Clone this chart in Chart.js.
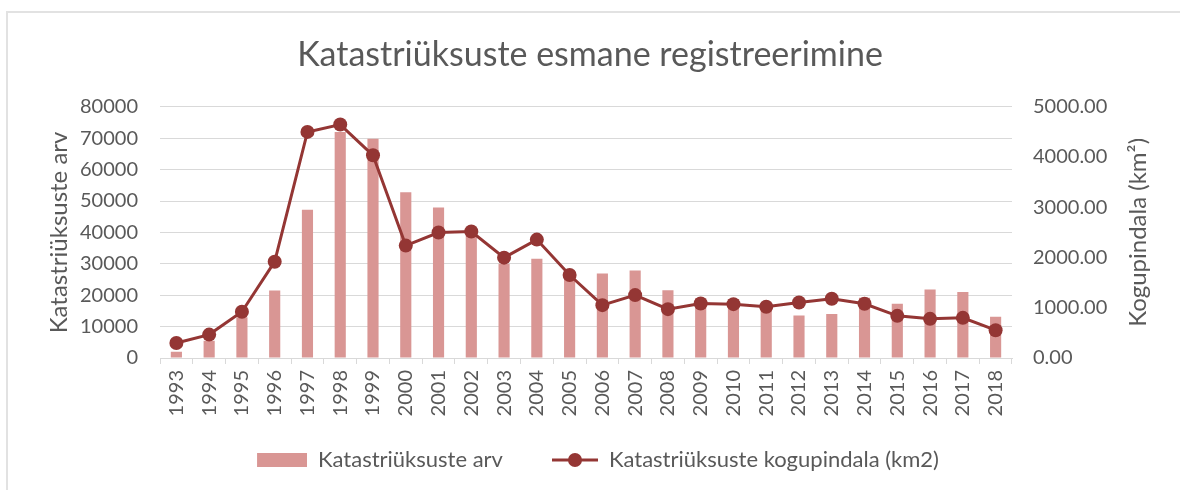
<!DOCTYPE html>
<html>
<head>
<meta charset="utf-8">
<script src="https://cdn.jsdelivr.net/npm/chart.js@4"></script>
<style>
html, body { margin: 0; padding: 0; background: #fff; }
#frame { position: absolute; left: 6px; top: 11px; width: 1200px; height: 520px; border: 2px solid #e2e2e2; box-sizing: border-box; }
#kat { position: absolute; left: 0; top: 0; }
</style>
</head>
<body>
<div id="frame"></div>
<canvas id="kat" width="1180" height="490"></canvas>
<script>
// aastad
const years = ['1993','1994','1995','1996','1997','1998','1999','2000','2001','2002','2003','2004','2005',
               '2006','2007','2008','2009','2010','2011','2012','2013','2014','2015','2016','2017','2018'];
// katastriüksuste arv (vasak telg)
const parcelCount = [2000, 5500, 13000, 21500, 47200, 72000, 69800, 52800, 47900, 40000, 30000, 31600, 25500,
                     26900, 27900, 21600, 19000, 18800, 17500, 13500, 14000, 19200, 17300, 21800, 21000, 13100];
// kogupindala km2 (parem telg)
const totalArea = [300, 466, 920, 1917, 4500, 4647, 4035, 2237, 2497, 2517, 1997, 2357, 1651,
                   1052, 1252, 972, 1085, 1072, 1019, 1105, 1178, 1079, 839, 779, 799, 553];
const leftTicks = [0, 10000, 20000, 30000, 40000, 50000, 60000, 70000, 80000];
const rightTicks = [0, 1000, 2000, 3000, 4000, 5000];

const barColor = '#d99694';
const lineColor = '#943634';
const textColor = '#595959';
const gridColor = '#d9d9d9';
const fontName = 'Lato';

// legendi märgid: vasakul tühi vahe, et elemendid oleks laiemalt
function legendBar() {
  const c = document.createElement('canvas');
  c.width = 66; c.height = 14;
  const g = c.getContext('2d');
  g.fillStyle = barColor;
  g.fillRect(16, 0, 50, 14);
  return c;
}
function legendLine() {
  const c = document.createElement('canvas');
  c.width = 66; c.height = 16;
  const g = c.getContext('2d');
  g.strokeStyle = lineColor;
  g.lineWidth = 3;
  g.beginPath(); g.moveTo(20, 8); g.lineTo(66, 8); g.stroke();
  g.fillStyle = lineColor;
  g.beginPath(); g.arc(43, 8, 7, 0, Math.PI * 2); g.fill();
  return c;
}

// paremal telje pealkiri loetakse alt üles
const rightTitle = {
  id: 'rightTitle',
  afterDraw(chart) {
    const c = chart.ctx;
    const s = chart.scales.y2;
    c.save();
    c.translate(s.right - 42, (s.top + s.bottom) / 2);
    c.rotate(-Math.PI / 2);
    c.font = '24px ' + fontName;
    c.fillStyle = textColor;
    c.textAlign = 'center';
    c.textBaseline = 'middle';
    c.fillText('Kogupindala (km²)', 0, 0);
    c.restore();
  }
};

const ctx = document.getElementById('kat').getContext('2d');
var chart = new Chart(ctx, {
  type: 'bar',
  data: {
    labels: years,
    datasets: [{
      type: 'bar',
      label: 'Katastriüksuste arv',
      data: parcelCount,
      backgroundColor: barColor,
      barPercentage: 0.34,
      categoryPercentage: 1,
      yAxisID: 'y',
      order: 1
    }, {
      type: 'line',
      label: 'Katastriüksuste kogupindala (km2)',
      data: totalArea,
      borderColor: lineColor,
      backgroundColor: lineColor,
      borderWidth: 3,
      pointRadius: 7,
      pointBackgroundColor: lineColor,
      pointBorderWidth: 0,
      tension: 0,
      yAxisID: 'y2',
      order: 0
    }]
  },
  options: {
    responsive: false,
    animation: false,
    layout: { padding: { left: 0, right: 0, top: 0, bottom: 9 } },
    plugins: {
      tooltip: { enabled: false },
      title: {
        display: true,
        text: 'Katastriüksuste esmane registreerimine',
        color: textColor,
        font: { family: fontName, size: 34, weight: 'normal' },
        padding: { top: 35, bottom: 31 }
      },
      legend: {
        position: 'bottom',
        labels: {
          color: textColor,
          font: { family: fontName, size: 22 },
          usePointStyle: true,
          pointStyleWidth: 66,
          padding: 29,
          generateLabels: function() {
            return [
              { text: 'Katastriüksuste arv', pointStyle: legendBar(), fillStyle: barColor, strokeStyle: barColor, lineWidth: 0, datasetIndex: 0, fontColor: textColor },
              { text: 'Katastriüksuste kogupindala (km2)', pointStyle: legendLine(), fillStyle: lineColor, strokeStyle: lineColor, lineWidth: 0, datasetIndex: 1, fontColor: textColor }
            ];
          }
        }
      }
    },
    scales: {
      x: {
        offset: true,
        grid: { display: true, drawOnChartArea: false, drawTicks: true, tickLength: 6, color: gridColor, offset: true },
        border: { display: true, color: gridColor, width: 1 },
        ticks: { color: textColor, font: { family: fontName, size: 20 }, minRotation: 90, maxRotation: 90, padding: 6, autoSkip: false },
        afterFit: function(s) { s.height = 62; }
      },
      y: {
        position: 'left',
        min: leftTicks[0],
        max: leftTicks[leftTicks.length - 1],
        afterBuildTicks: function(s) { s.ticks = leftTicks.map(v => ({ value: v })); },
        grid: { color: gridColor, lineWidth: 1, drawTicks: false },
        border: { display: false },
        ticks: { color: textColor, font: { family: fontName, size: 20 }, padding: 22, autoSkip: false, callback: v => String(v) },
        title: { display: true, text: 'Katastriüksuste arv', color: textColor, font: { family: fontName, size: 24 }, padding: { top: 45 } },
        afterFit: function(s) { s.width = 160; }
      },
      y2: {
        position: 'right',
        min: rightTicks[0],
        max: rightTicks[rightTicks.length - 1],
        afterBuildTicks: function(s) { s.ticks = rightTicks.map(v => ({ value: v })); },
        grid: { display: false, drawTicks: false },
        border: { display: false },
        ticks: { color: textColor, font: { family: fontName, size: 20 }, padding: 21, autoSkip: false, callback: v => Number(v).toFixed(2) },
        afterFit: function(s) { s.width = 168; }
      }
    }
  },
  plugins: [rightTitle]
});
</script>
</body>
</html>
